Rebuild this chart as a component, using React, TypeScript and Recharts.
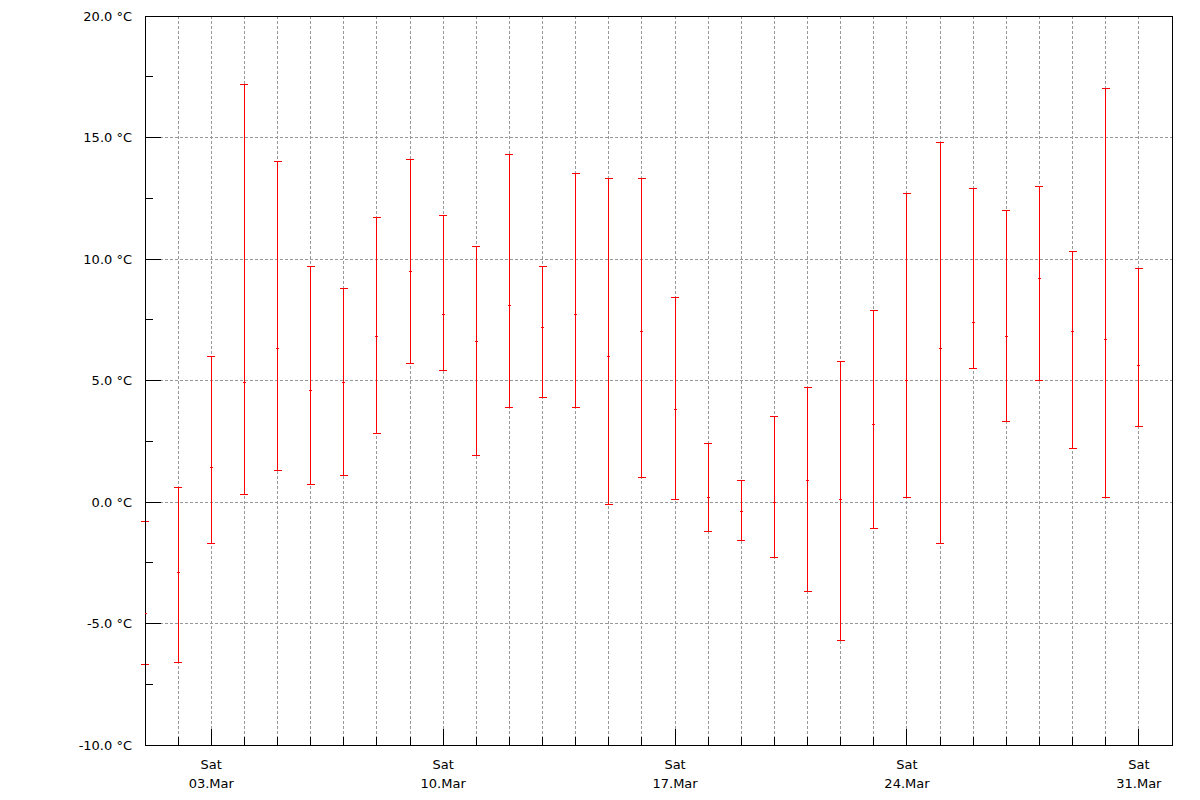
import React from "react";
import {
  ComposedChart,
  Scatter,
  ErrorBar,
  XAxis,
  YAxis,
  CartesianGrid,
  ReferenceArea,
} from "recharts";

// Day of month (March)
const days = [
  1, 2, 3, 4, 5, 6, 7, 8, 9, 10, 11, 12, 13, 14, 15, 16, 17, 18, 19, 20, 21,
  22, 23, 24, 25, 26, 27, 28, 29, 30, 31,
];
const tMax = [
  -0.8, 0.6, 6.0, 17.2, 14.0, 9.7, 8.8, 11.7, 14.1, 11.8, 10.5, 14.3, 9.7, 13.5,
  13.3, 13.3, 8.4, 2.4, 0.9, 3.5, 4.7, 5.8, 7.9, 12.7, 14.8, 12.9, 12.0, 13.0,
  10.3, 17.0, 9.6,
];
const tMean = [
  -4.6, -2.9, 1.4, 4.9, 6.3, 4.6, 4.9, 6.8, 9.5, 7.7, 6.6, 8.1, 7.2, 7.7, 6.0,
  7.0, 3.8, 0.2, -0.4, 0.0, 0.9, 0.1, 3.2, 5.0, 6.3, 7.4, 6.8, 9.2, 7.0, 6.7,
  5.6,
];
const tMin = [
  -6.7, -6.6, -1.7, 0.3, 1.3, 0.7, 1.1, 2.8, 5.7, 5.4, 1.9, 3.9, 4.3, 3.9, -0.1,
  1.0, 0.1, -1.2, -1.6, -2.3, -3.7, -5.7, -1.1, 0.2, -1.7, 5.5, 3.3, 5.0, 2.2,
  0.2, 3.1,
];

// X ticks: every day from 1 Mar to 1 Apr; labelled Saturdays
const xTicks = [
  1, 2, 3, 4, 5, 6, 7, 8, 9, 10, 11, 12, 13, 14, 15, 16, 17, 18, 19, 20, 21,
  22, 23, 24, 25, 26, 27, 28, 29, 30, 31, 32,
];
const labelDays = [3, 10, 17, 24, 31];
const weekdayLabels = ["Sat", "Sat", "Sat", "Sat", "Sat"];
const dateLabels = ["03.Mar", "10.Mar", "17.Mar", "24.Mar", "31.Mar"];

// Y ticks
const yTicks = [-10, -7.5, -5, -2.5, 0, 2.5, 5, 7.5, 10, 12.5, 15, 17.5, 20];
const yLabelled = [-10, -5, 0, 5, 10, 15, 20];
const yGrid = [-5, 0, 5, 10, 15];
const xGrid = days.slice(1);

const data = days.map((d, i) => ({
  day: d,
  mean: tMean[i],
  err: [tMean[i] - tMin[i], tMax[i] - tMean[i]],
}));

const FONT = "'DejaVu Sans', sans-serif";

const YTick = (props: any) => {
  const { x, y, payload } = props;
  const v = payload.value;
  const major = yLabelled.includes(v);
  return (
    <g>
      <line
        x1={x}
        x2={x + (major ? 16 : 8)}
        y1={y}
        y2={y}
        stroke="#000"
        strokeWidth={1}
      />
      {major && (
        <text
          x={x - 13}
          y={y}
          textAnchor="end"
          dominantBaseline="central"
          fontFamily={FONT}
          fontSize={13}
          fill="#000"
        >
          {`${v.toFixed(1)} °C`}
        </text>
      )}
    </g>
  );
};

const XTick = (props: any) => {
  const { x, y, payload } = props;
  const v = payload.value;
  const idx = labelDays.indexOf(v);
  const major = idx >= 0;
  return (
    <g>
      <line
        x1={x}
        x2={x}
        y1={y}
        y2={y - (major ? 16 : 8)}
        stroke="#000"
        strokeWidth={1}
      />
      {major && (
        <text
          x={x}
          y={y + 19}
          textAnchor="middle"
          dominantBaseline="central"
          fontFamily={FONT}
          fontSize={13}
          fill="#000"
        >
          {weekdayLabels[idx]}
        </text>
      )}
      {major && (
        <text
          x={x}
          y={y + 38}
          textAnchor="middle"
          dominantBaseline="central"
          fontFamily={FONT}
          fontSize={13}
          fill="#000"
        >
          {dateLabels[idx]}
        </text>
      )}
    </g>
  );
};

const MeanTick = (props: any) => {
  const { cx, cy } = props;
  return (
    <line
      x1={cx - 1.5}
      x2={cx + 1.5}
      y1={cy}
      y2={cy}
      stroke="#ff0000"
      strokeWidth={1}
    />
  );
};

export default function App() {
  return (
    <div style={{ position: "absolute", left: 0, top: 0, background: "#fff" }}>
      <style>{"svg line, svg path, svg rect { shape-rendering: crispEdges; }"}</style>
      <ComposedChart
        width={1200}
        height={800}
        data={data}
        margin={{ top: 16, right: 28, bottom: 0, left: 0 }}
      >
        <CartesianGrid
          stroke="#999999"
          strokeDasharray="3 2"
          horizontalValues={yGrid}
          verticalValues={xGrid}
        />
        <XAxis
          type="number"
          dataKey="day"
          domain={[1, 32]}
          ticks={xTicks}
          interval={0}
          height={55}
          tickSize={0}
          tickMargin={0}
          tickLine={false}
          axisLine={{ stroke: "#000" }}
          tick={<XTick />}
          allowDataOverflow
        />
        <YAxis
          type="number"
          domain={[-10, 20]}
          ticks={yTicks}
          interval={0}
          width={145}
          tickSize={0}
          tickMargin={0}
          tickLine={false}
          axisLine={{ stroke: "#000" }}
          tick={<YTick />}
          allowDataOverflow
        />
        <ReferenceArea
          x1={1}
          x2={32}
          y1={-10}
          y2={20}
          fill="none"
          fillOpacity={0}
          stroke="#000"
          strokeOpacity={1}
        />
        <Scatter
          dataKey="mean"
          isAnimationActive={false}
          shape={<MeanTick />}
        >
          <ErrorBar
            dataKey="err"
            direction="y"
            width={4}
            stroke="#ff0000"
            strokeWidth={1}
            isAnimationActive={false}
          />
        </Scatter>
      </ComposedChart>
    </div>
  );
}
